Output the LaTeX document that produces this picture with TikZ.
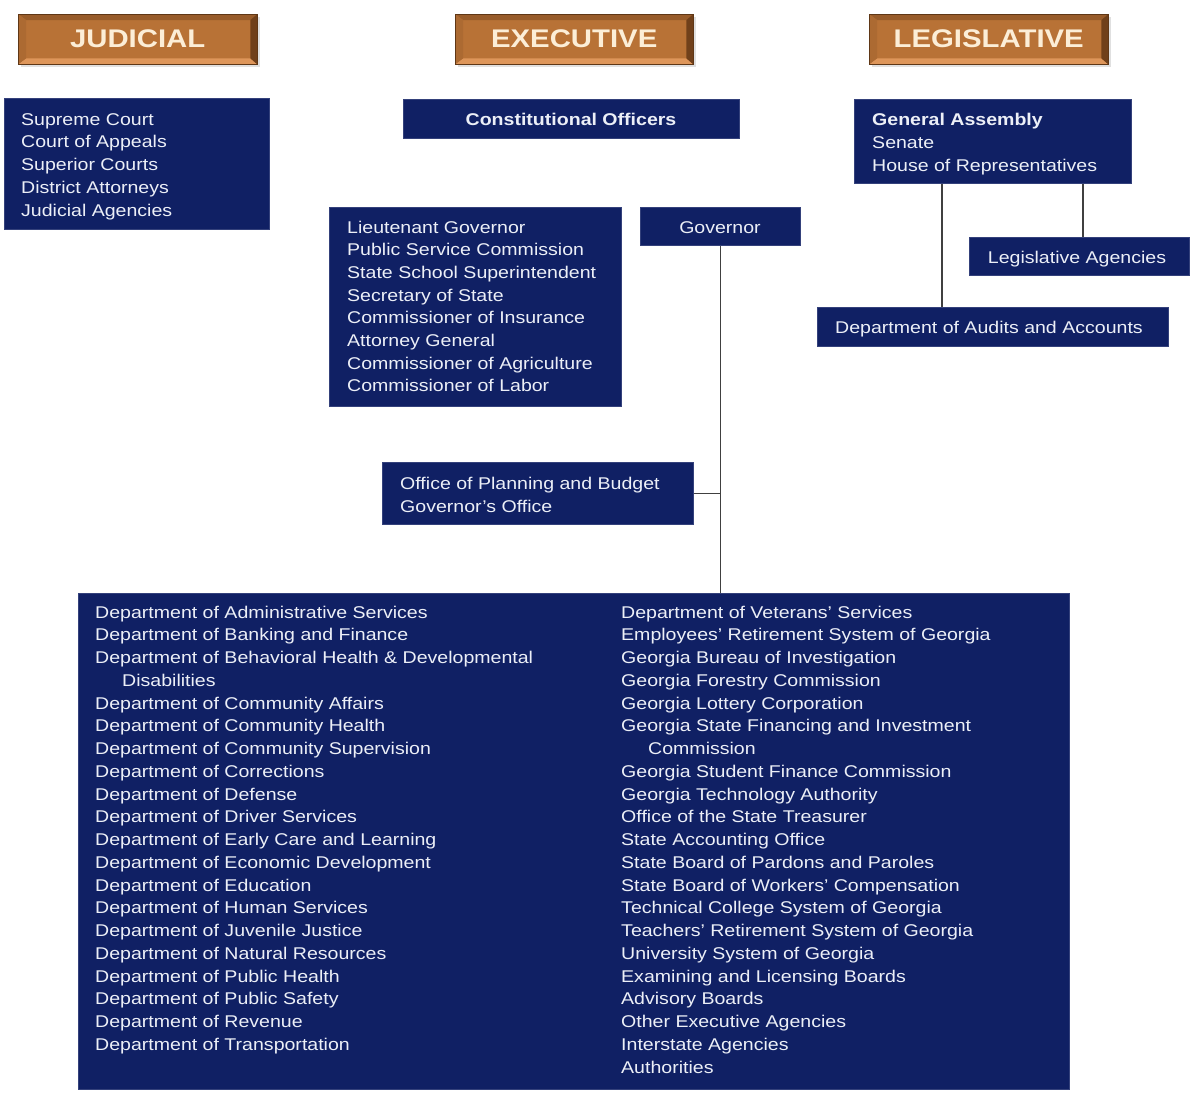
\documentclass[tikz,border=0pt]{standalone}
\usepackage{fontspec}
\setmainfont{Liberation Sans}[FakeStretch=1.15]
\usetikzlibrary{calc}
\definecolor{navy}{RGB}{16,32,100}
\definecolor{txtw}{RGB}{236,239,247}
\definecolor{bface}{RGB}{184,114,54}
\definecolor{btop}{RGB}{152,92,42}
\definecolor{bleft}{RGB}{172,106,50}
\definecolor{bright}{RGB}{112,64,26}
\definecolor{bbot}{RGB}{222,150,90}
\definecolor{bline}{RGB}{95,55,22}
\definecolor{htxt}{RGB}{252,238,215}
\newcommand\navyrect[5]{\node[navybox,minimum width=#4,minimum height=#5] (#1) at (#2,#3) {};}
\newcommand\bevelhead[6]{%
  \fill[black!12] (#2+3,#3+3) rectangle (#2+#4+3,#3+#5+3);
  \node[hdrbox,minimum width=#4,minimum height=#5] (#1) at (#2,#3) {};
  \fill[btop] (#1.north west) -- (#1.north east) -- ($(#1.north east)+(-7,6)$) -- ($(#1.north west)+(8,6)$) -- cycle;
  \fill[bbot] (#1.south west) -- (#1.south east) -- ($(#1.south east)+(-7,-6)$) -- ($(#1.south west)+(8,-6)$) -- cycle;
  \fill[bleft] (#1.north west) -- (#1.south west) -- ($(#1.south west)+(8,-6)$) -- ($(#1.north west)+(8,6)$) -- cycle;
  \fill[bright] (#1.north east) -- (#1.south east) -- ($(#1.south east)+(-7,-6)$) -- ($(#1.north east)+(-7,6)$) -- cycle;
  \draw[bline,line width=1pt] (#1.north west) rectangle (#1.south east);
  \node[htxt] (#1t) at (#1.center) {#6};
}
\begin{document}
\begin{tikzpicture}[x=1pt,y=-1pt,
  navybox/.style={fill=navy, draw=navy!85!white, line width=0.6pt, inner sep=0pt, anchor=north west},
  hdrbox/.style={fill=bface, inner sep=0pt, anchor=north west},
  htxt/.style={text=htxt, inner sep=0pt, font=\fontsize{25.5}{30}\selectfont\bfseries},
  txt/.style={text=txtw, inner sep=0pt, font=\fontsize{17}{22.75}\selectfont},
  link/.style={draw=black!75, line width=1.5pt}]
\useasboundingbox (0,0) rectangle (1193,1093);

% headers
\bevelhead{hj}{18}{14}{239}{50}{JUDICIAL}
\bevelhead{he}{455}{14}{238}{50}{EXECUTIVE}
\bevelhead{hl}{869}{14}{239}{50}{LEGISLATIVE}

% boxes
\navyrect{jud}{4}{98}{265}{131}
\navyrect{co}{403}{99}{336}{39}
\navyrect{ga}{854}{99}{277}{84}
\navyrect{la}{969}{237}{220}{38}
\navyrect{daa}{817}{307}{351}{39}
\navyrect{ltg}{329}{207}{292}{199}
\navyrect{gov}{640}{207}{160}{38}
\navyrect{opb}{382}{462}{311}{62}
\navyrect{dept}{78}{593}{991}{496}

% connectors
\coordinate (gaL) at ($(ga.south west)+(88,0)$);
\coordinate (gaR) at ($(ga.south west)+(229,0)$);
\draw[link] (gaL) -- (gaL |- daa.north);
\draw[link] (gaR) -- (gaR |- la.north);
\draw[link] (gov.south) -- (gov.south |- dept.north);
\draw[link] (opb.east) -- (opb.east -| gov.south);

% texts
\foreach \t [count=\i] in {Supreme Court,Court of Appeals,Superior Courts,District Attorneys,Judicial Agencies}
  \node[txt,anchor=base west] (jt\i) at (21,{125+22.8*(\i-1)}) {\t};
\node[txt,anchor=base] (cot) at (571,125) {\bfseries Constitutional Officers};
\node[txt,anchor=base west] (gat1) at (872,125) {\bfseries General Assembly};
\node[txt,anchor=base west] (gat2) at (872,148) {Senate};
\node[txt,anchor=base west] (gat3) at (872,171) {House of Representatives};
\node[txt,anchor=base] (lat) at (1077,263) {Legislative Agencies};
\node[txt,anchor=base west] (daat) at (835,333) {Department of Audits and Accounts};
\node[txt,anchor=base] (govt) at (720,233) {Governor};
\foreach \t [count=\i] in {Lieutenant Governor,Public Service Commission,State School Superintendent,Secretary of State,Commissioner of Insurance,Attorney General,Commissioner of Agriculture,Commissioner of Labor}
  \node[txt,anchor=base west] (lt\i) at (347,{233+22.7*(\i-1)}) {\t};
\node[txt,anchor=base west] (opt1) at (400,489) {Office of Planning and Budget};
\node[txt,anchor=base west] (opt2) at (400,512) {Governor’s Office};
\foreach \t [count=\i] in {Department of Administrative Services,Department of Banking and Finance,Department of Behavioral Health \& Developmental,\hspace*{27pt}Disabilities,Department of Community Affairs,Department of Community Health,Department of Community Supervision,Department of Corrections,Department of Defense,Department of Driver Services,Department of Early Care and Learning,Department of Economic Development,Department of Education,Department of Human Services,Department of Juvenile Justice,Department of Natural Resources,Department of Public Health,Department of Public Safety,Department of Revenue,Department of Transportation}
  \node[txt,anchor=base west] (dl\i) at (95,{618+22.75*(\i-1)}) {\t};
\foreach \t [count=\i] in {Department of Veterans’ Services,Employees’ Retirement System of Georgia,Georgia Bureau of Investigation,Georgia Forestry Commission,Georgia Lottery Corporation,Georgia State Financing and Investment,\hspace*{27pt}Commission,Georgia Student Finance Commission,Georgia Technology Authority,Office of the State Treasurer,State Accounting Office,State Board of Pardons and Paroles,State Board of Workers’ Compensation,Technical College System of Georgia,Teachers’ Retirement System of Georgia,University System of Georgia,Examining and Licensing Boards,Advisory Boards,Other Executive Agencies,Interstate Agencies,Authorities}
  \node[txt,anchor=base west] (dr\i) at (621,{618+22.75*(\i-1)}) {\t};
\end{tikzpicture}
\end{document}
